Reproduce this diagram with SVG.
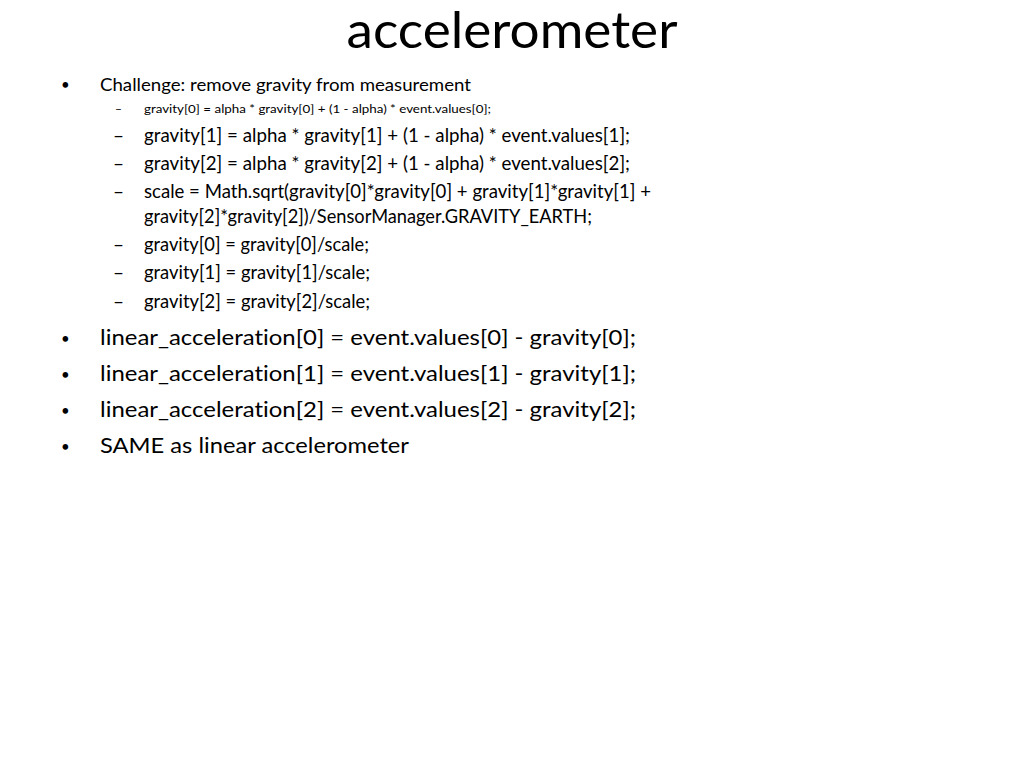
<svg xmlns="http://www.w3.org/2000/svg" width="1024" height="768" viewBox="0 0 1024 768">
<style>
text{font-family:Lato,"Open Sans","Liberation Sans",sans-serif;fill:#000;font-variant-ligatures:none}
.t{font-size:51px}
.l1{font-size:18px}
.s{font-size:12px}
.l2{font-size:19px}
.l0{font-size:22px}
.b{font-size:15px}
</style>
<rect width="1024" height="768" fill="#fff"/>
<g id="title"><text class="t" x="512" y="48" text-anchor="middle" textLength="331" lengthAdjust="spacingAndGlyphs">accelerometer</text></g>
<g id="body">
<text class="b" x="61" y="90">•</text>
<text class="l1" x="100" y="91" textLength="371" lengthAdjust="spacingAndGlyphs">Challenge: remove gravity from measurement</text>
<text class="s" x="115" y="113">–</text>
<text class="s" x="144" y="113" textLength="347" lengthAdjust="spacingAndGlyphs">gravity[0] = alpha * gravity[0] + (1 - alpha) * event.values[0];</text>
<text class="l2" x="113" y="142">–</text>
<text class="l2" x="144" y="142" textLength="486" lengthAdjust="spacingAndGlyphs">gravity[1] = alpha * gravity[1] + (1 - alpha) * event.values[1];</text>
<text class="l2" x="113" y="170">–</text>
<text class="l2" x="144" y="170" textLength="486" lengthAdjust="spacingAndGlyphs">gravity[2] = alpha * gravity[2] + (1 - alpha) * event.values[2];</text>
<text class="l2" x="113" y="198">–</text>
<text class="l2" x="144" y="198" textLength="507" lengthAdjust="spacingAndGlyphs">scale = Math.sqrt(gravity[0]*gravity[0] + gravity[1]*gravity[1] +</text>
<text class="l2" x="144" y="223" textLength="448" lengthAdjust="spacingAndGlyphs">gravity[2]*gravity[2])/SensorManager.GRAVITY_EARTH;</text>
<text class="l2" x="113" y="251">–</text>
<text class="l2" x="144" y="251" textLength="225" lengthAdjust="spacingAndGlyphs">gravity[0] = gravity[0]/scale;</text>
<text class="l2" x="113" y="279">–</text>
<text class="l2" x="144" y="279" textLength="226" lengthAdjust="spacingAndGlyphs">gravity[1] = gravity[1]/scale;</text>
<text class="l2" x="113" y="308">–</text>
<text class="l2" x="144" y="308" textLength="226" lengthAdjust="spacingAndGlyphs">gravity[2] = gravity[2]/scale;</text>
<text class="b" x="61" y="344">•</text>
<text class="l0" x="100" y="345" textLength="536" lengthAdjust="spacingAndGlyphs">linear_acceleration[0] = event.values[0] - gravity[0];</text>
<text class="b" x="61" y="380">•</text>
<text class="l0" x="100" y="381" textLength="536" lengthAdjust="spacingAndGlyphs">linear_acceleration[1] = event.values[1] - gravity[1];</text>
<text class="b" x="61" y="416">•</text>
<text class="l0" x="100" y="417" textLength="536" lengthAdjust="spacingAndGlyphs">linear_acceleration[2] = event.values[2] - gravity[2];</text>
<text class="b" x="61" y="452">•</text>
<text class="l0" x="100" y="453" textLength="309" lengthAdjust="spacingAndGlyphs">SAME as linear accelerometer</text>
</g>
</svg>
